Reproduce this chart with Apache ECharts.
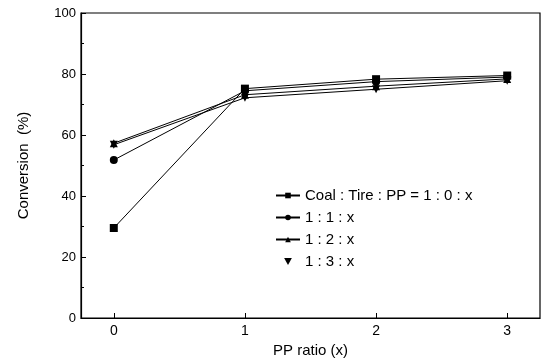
<!DOCTYPE html>
<html>
<head>
<meta charset="utf-8">
<script src="https://cdn.jsdelivr.net/npm/echarts@6/dist/echarts.min.js"></script>
<style>
  html, body { margin: 0; padding: 0; background: #fff; }
  #chart { width: 545px; height: 364px; }
</style>
</head>
<body>
<div id="chart"></div>
<script>
// PP ratio positions on x axis
var ppRatio = [0, 1, 2, 3]
// conversion (%) for each Coal : Tire : PP blend
var coalOnly = [29.5, 75.2, 78.3, 79.5]
var tire1 = [51.8, 74.5, 77.5, 79.0]
var tire2 = [57.3, 73.2, 76.0, 78.4]
var tire3 = [56.8, 72.2, 75.0, 77.8]
var seriesNames = ['Coal : Tire : PP = 1 : 0 : x', '1 : 1 : x', '1 : 2 : x', '1 : 3 : x']
var yTicks = [0, 20, 40, 60, 80, 100]

var font = "'Liberation Sans', Arial, sans-serif"

function pairs(vals) {
  return ppRatio.map(function (x, i) { return [x, vals[i]] })
}

function makeSeries(name, vals, symbol, size, rotate) {
  return {
    name: name,
    type: 'line',
    data: pairs(vals),
    symbol: symbol,
    symbolSize: size,
    symbolRotate: rotate || 0,
    lineStyle: { color: '#000', width: 1 },
    itemStyle: { color: '#000' },
    emphasis: { disabled: true }
  }
}

var chart = echarts.init(document.getElementById('chart'))
chart.setOption({
  animation: false,
  grid: { left: 81, right: 5, top: 13, bottom: 46, show: true, borderColor: '#000', borderWidth: 1.2 },
  legend: {
    left: 270,
    top: 183,
    orient: 'vertical',
    itemGap: 7,
    itemWidth: 24,
    itemHeight: 7,
    textStyle: { fontFamily: font, fontSize: 15, color: '#000' },
    data: [
      { name: seriesNames[0] },
      { name: seriesNames[1] },
      { name: seriesNames[2] },
      { name: seriesNames[3], icon: 'path://M0,0 L10,0 L5,9 Z' }
    ]
  },
  xAxis: {
    type: 'value',
    min: -0.25,
    max: 3.25,
    name: 'PP ratio (x)',
    nameLocation: 'middle',
    nameGap: 24,
    nameTextStyle: { fontFamily: font, fontSize: 15, color: '#000' },
    splitLine: { show: false },
    axisLine: { onZero: false, lineStyle: { color: '#000', width: 1.2 } },
    axisTick: { inside: true, length: 5, lineStyle: { color: '#000' }, customValues: ppRatio },
    axisLabel: { fontFamily: font, fontSize: 14, color: '#000', margin: 6, customValues: ppRatio }
  },
  yAxis: {
    type: 'value',
    min: 0,
    max: 100,
    interval: 20,
    name: 'Conversion  (%)',
    nameLocation: 'middle',
    nameGap: 50,
    nameTextStyle: { fontFamily: font, fontSize: 15, color: '#000' },
    splitLine: { show: false },
    axisLine: { onZero: false, lineStyle: { color: '#000', width: 1.2 } },
    axisTick: { inside: true, length: 5, lineStyle: { color: '#000' }, customValues: yTicks },
    minorTick: { show: true, splitNumber: 2, length: 3, lineStyle: { color: '#000' } },
    axisLabel: { fontFamily: font, fontSize: 13, color: '#000', margin: 5 }
  },
  series: [
    makeSeries(seriesNames[0], coalOnly, 'rect', 8),
    makeSeries(seriesNames[1], tire1, 'circle', 8),
    makeSeries(seriesNames[2], tire2, 'triangle', 8),
    makeSeries(seriesNames[3], tire3, 'triangle', 8, 180)
  ]
})
</script>
</body>
</html>
